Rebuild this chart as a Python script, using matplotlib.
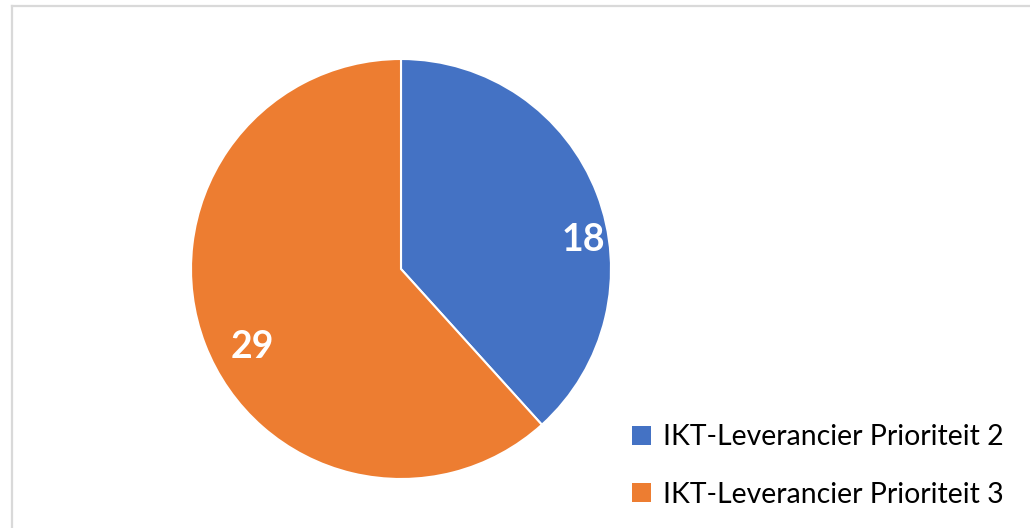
import matplotlib
matplotlib.use("Agg")
import matplotlib.pyplot as plt
from matplotlib.lines import Line2D
from matplotlib.patches import Patch

categories = ["IKT-Leverancier Prioriteit 2", "IKT-Leverancier Prioriteit 3"]
values = [18, 29]
colors = ["#4472C4", "#ED7D31"]

W, H = 1030, 528
fig = plt.figure(figsize=(W / 100, H / 100), dpi=100)
fig.patch.set_facecolor("white")

# frame (top and left border lines)
fig.add_artist(Line2D([11.5 / W, 1.0], [1 - 5.5 / H, 1 - 5.5 / H], color="#d9d9d9", lw=1.6, transform=fig.transFigure))
fig.add_artist(Line2D([11.5 / W, 11.5 / W], [0.0, 1 - 5.5 / H], color="#d9d9d9", lw=1.6, transform=fig.transFigure))

cx, cy, r = 401, 269, 210
ax = fig.add_axes([(cx - r) / W, (H - cy - r) / H, 2 * r / W, 2 * r / H])
wedges, _ = ax.pie(values, colors=colors, startangle=90, counterclock=False,
                   wedgeprops=dict(edgecolor="white", linewidth=1.5))
ax.set_xlim(-1, 1)
ax.set_ylim(-1, 1)
ax.set_aspect("equal")
ax.axis("off")

label_pos = [(0.868, 0.14), (-0.71, -0.37)]
for v, (x, y) in zip(values, label_pos):
    ax.text(x, y, str(v), ha="center", va="center", color="white",
            fontsize=27, fontweight="bold", family="Lato")

handles = [Patch(facecolor=c, edgecolor="none") for c in colors]
fig.legend(handles, categories, loc="upper left",
           bbox_to_anchor=(632 / W, 1 - 424 / H), frameon=False,
           prop=dict(family="Lato", size=20.4), handlelength=0.66, handleheight=0.66,
           handletextpad=0.42, labelspacing=1.12, borderpad=0, borderaxespad=0)

fig.savefig("out.png", dpi=100)
